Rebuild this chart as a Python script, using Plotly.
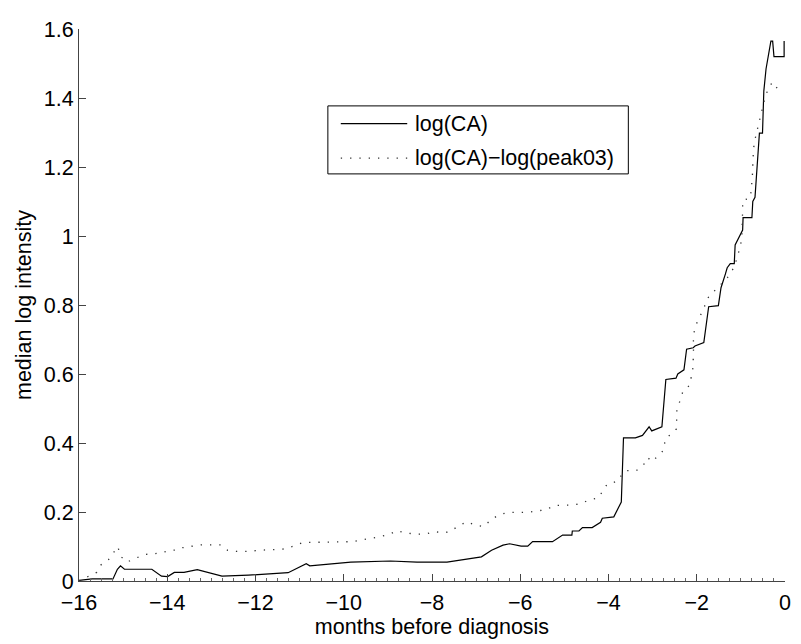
import plotly.graph_objects as go

# log(CA) median curve
ca_x = [-16.0, -15.7, -15.23, -15.13, -15.06, -14.97, -14.35, -14.13, -13.99, -13.84,
        -13.62, -13.32, -12.76, -12.16, -11.26, -10.96, -10.85, -10.77, -9.84, -8.94,
        -8.34, -7.66, -6.88, -6.65, -6.39, -6.24, -5.98, -5.83, -5.72, -5.27,
        -5.04, -4.83, -4.82, -4.67, -4.59, -4.37, -4.18, -4.14, -3.88, -3.71,
        -3.66, -3.39, -3.30, -3.23, -3.08, -3.02, -2.79, -2.70, -2.47, -2.43,
        -2.29, -2.23, -2.08, -2.04, -1.84, -1.73, -1.51, -1.45, -1.35, -1.31,
        -1.24, -1.15, -1.13, -0.96, -0.95, -0.75, -0.73, -0.68, -0.58, -0.51,
        -0.48, -0.43, -0.32, -0.28, -0.25, -0.02, -0.02]
ca_y = [0.002, 0.006, 0.006, 0.034, 0.044, 0.034, 0.034, 0.014, 0.013, 0.025,
        0.025, 0.033, 0.014, 0.017, 0.024, 0.043, 0.05, 0.044, 0.055, 0.058,
        0.055, 0.055, 0.07, 0.089, 0.104, 0.108, 0.101, 0.101, 0.114, 0.114,
        0.133, 0.133, 0.145, 0.145, 0.155, 0.155, 0.170, 0.182, 0.186, 0.229,
        0.415, 0.415, 0.419, 0.422, 0.447, 0.435, 0.447, 0.584, 0.588, 0.600,
        0.612, 0.672, 0.676, 0.681, 0.691, 0.795, 0.798, 0.85, 0.89, 0.908,
        0.92, 0.92, 0.974, 1.017, 1.053, 1.053, 1.10, 1.112, 1.298, 1.298,
        1.42, 1.484, 1.565, 1.565, 1.52, 1.52, 1.565]

# log(CA)-log(peak03) median curve
pk_x = [-16.0, -15.93, -15.60, -15.51, -15.33, -15.21, -15.12, -15.06, -14.91, -14.70,
        -14.50, -14.31, -14.13, -13.93, -13.77, -13.68, -13.45, -13.24, -13.02, -12.79,
        -12.63, -12.43, -12.21, -11.99, -11.78, -11.56, -11.33, -11.12, -10.92, -10.70,
        -10.47, -10.25, -10.02, -9.81, -9.59, -9.37, -9.16, -8.95, -8.80, -8.58,
        -8.36, -8.15, -7.95, -7.75, -7.59, -7.42, -7.21, -7.03, -6.82, -6.67,
        -6.48, -6.28, -6.05, -5.84, -5.62, -5.40, -5.23, -5.00, -4.82, -4.63,
        -4.44, -4.23, -4.14, -4.03, -3.80, -3.71, -3.60, -3.37, -3.21, -3.11,
        -3.02, -2.87, -2.74, -2.72, -2.46, -2.46, -2.45, -2.38, -2.31, -2.16,
        -2.11, -2.08, -2.08, -2.07, -2.08, -2.04, -1.97, -1.88, -1.73, -1.60,
        -1.45, -1.30, -1.15, -1.03, -0.98, -0.96, -0.96, -0.79, -0.76, -0.75,
        -0.73, -0.73, -0.72, -0.70, -0.47, -0.40, -0.29, -0.17, -0.04]
pk_y = [0.0, 0.005, 0.025, 0.046, 0.062, 0.084, 0.10, 0.072, 0.055, 0.067,
        0.077, 0.079, 0.082, 0.089, 0.090, 0.096, 0.101, 0.105, 0.105, 0.105,
        0.089, 0.086, 0.086, 0.089, 0.090, 0.091, 0.093, 0.102, 0.112, 0.112,
        0.112, 0.114, 0.114, 0.114, 0.119, 0.124, 0.129, 0.136, 0.146, 0.139,
        0.136, 0.136, 0.143, 0.14, 0.143, 0.158, 0.172, 0.162, 0.158, 0.177,
        0.192, 0.199, 0.199, 0.199, 0.203, 0.207, 0.219, 0.219, 0.22, 0.224,
        0.235, 0.241, 0.26, 0.281, 0.289, 0.306, 0.32, 0.32, 0.336, 0.358,
        0.346, 0.363, 0.381, 0.41, 0.441, 0.469, 0.498, 0.522, 0.551, 0.567,
        0.596, 0.622, 0.651, 0.681, 0.708, 0.734, 0.757, 0.779, 0.824, 0.84,
        0.86, 0.88, 0.91, 0.962, 0.991, 1.074, 1.103, 1.11, 1.136, 1.162,
        1.189, 1.217, 1.244, 1.269, 1.393, 1.42, 1.446, 1.427, 1.439]

series_names = ["log(CA)", "log(CA)\u2212log(peak03)"]
x_ticks = [-16, -14, -12, -10, -8, -6, -4, -2, 0]
y_ticks = [0, 0.2, 0.4, 0.6, 0.8, 1, 1.2, 1.4, 1.6]

FONT = "Liberation Sans, Arial, Helvetica, sans-serif"
FS = 21.5
SOLID = dict(color="black", width=1.2)
DOTTED = dict(color="#333333", width=1.3, dash="1.3px,8px")

fig = go.Figure()
fig.add_trace(go.Scatter(x=ca_x, y=ca_y, mode="lines", name=series_names[0],
                         line=SOLID, showlegend=False))
fig.add_trace(go.Scatter(x=pk_x, y=pk_y, mode="lines", name=series_names[1],
                         line=DOTTED, showlegend=False))

# legend box (MATLAB style), in paper coordinates
box_x0, box_x1, box_y0, box_y1 = 0.3525, 0.7781, 0.7375, 0.8607
row_y = [0.8286, 0.7661]
sample_x0, sample_x1, text_x = 0.3708, 0.4649, 0.4733
fig.add_shape(type="rect", xref="paper", yref="paper",
              x0=box_x0, x1=box_x1, y0=box_y0, y1=box_y1,
              line=dict(color="black", width=1), fillcolor="white", layer="above")
for name, yy, style in zip(series_names, row_y, [SOLID, DOTTED]):
    fig.add_shape(type="line", xref="paper", yref="paper",
                  x0=sample_x0, x1=sample_x1, y0=yy, y1=yy,
                  line=style, layer="above")
    fig.add_annotation(xref="paper", yref="paper", x=text_x, y=yy, text=name,
                       xanchor="left", yanchor="middle", showarrow=False,
                       font=dict(family=FONT, size=FS, color="black"))

# page body has an 8px default margin, so the figure is 8px smaller than the window
fig.update_layout(
    width=793, height=636,
    margin=dict(l=71, r=10, t=13, b=63),
    paper_bgcolor="white", plot_bgcolor="white",
    font=dict(family=FONT, size=FS, color="black"),
    showlegend=False,
    xaxis=dict(range=[-16, 0], tickmode="array", tickvals=x_ticks,
               ticks="inside", ticklen=7, tickcolor="#444", tickwidth=1,
               showline=True, linecolor="#444", linewidth=1, mirror=False,
               showgrid=False, zeroline=False, ticklabelstandoff=2,
               tickfont=dict(family=FONT, size=FS),
               title=dict(text="months before diagnosis", standoff=1,
                          font=dict(family=FONT, size=FS)),
               minor=dict(ticks="inside", ticklen=3, dtick=0.25, tickcolor="#666",
                          showgrid=False)),
    yaxis=dict(range=[0, 1.6], tickmode="array", tickvals=y_ticks,
               ticks="inside", ticklen=7, tickcolor="#444", tickwidth=1,
               showline=True, linecolor="#444", linewidth=1, mirror=False,
               showgrid=False, zeroline=False,
               tickfont=dict(family=FONT, size=FS),
               title=dict(text="median log intensity", standoff=6,
                          font=dict(family=FONT, size=FS))),
)

fig.write_html("out.html")
